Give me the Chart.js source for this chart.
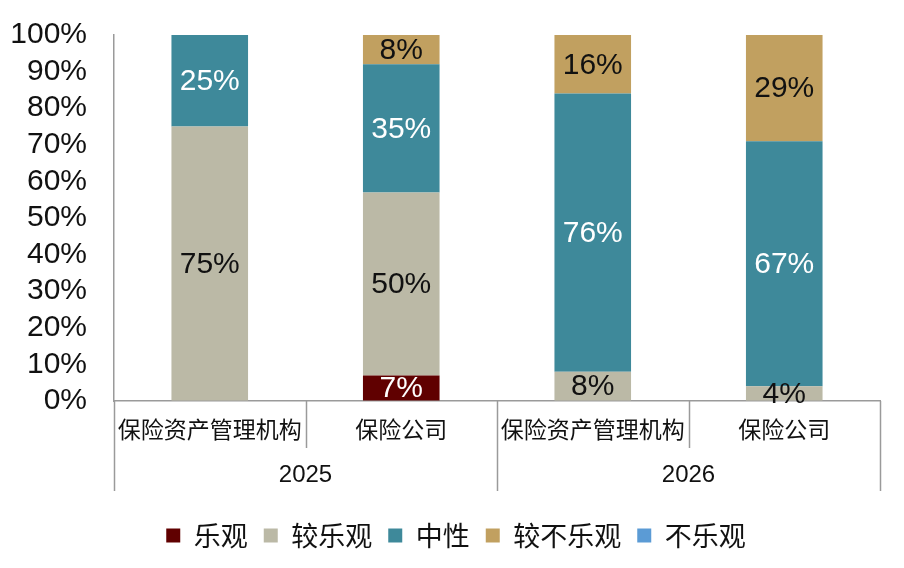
<!DOCTYPE html>
<html>
<head>
<meta charset="utf-8">
<script src="https://cdn.jsdelivr.net/npm/chart.js@4.4.1/dist/chart.umd.min.js"></script>
<style>
  html, body { margin: 0; padding: 0; background: #fff; }
  #wrap { width: 904px; height: 568px; }
</style>
</head>
<body>
<div id="wrap"><canvas id="chart" width="904" height="568"></canvas></div>
<script>
// chart data -------------------------------------------------------------
const categories = ['保险资产管理机构', '保险公司', '保险资产管理机构', '保险公司'];
const years = ['2025', '2026'];
const seriesNames = ['乐观', '较乐观', '中性', '较不乐观', '不乐观'];
const optimistic = [0, 7, 0, 0];
const fairlyOptimistic = [75, 50, 8, 4];
const neutral = [25, 35, 76, 67];
const fairlyPessimistic = [0, 8, 16, 29];
const pessimistic = [0, 0, 0, 0];
const yTicks = [0, 10, 20, 30, 40, 50, 60, 70, 80, 90, 100];

const colors = ['#600000', '#BBB9A6', '#3E899A', '#C1A060', '#5B9BD5'];
const labelColors = ['#fff', '#111', '#fff', '#111', '#fff'];
const AXIS = '#9a9a9a';
const NUM_FONT = '"Liberation Sans", Arial, "Noto Sans CJK SC", sans-serif';
const CJK_FONT = '"Noto Sans CJK SC", "Liberation Sans", sans-serif';

const values = [optimistic, fairlyOptimistic, neutral, fairlyPessimistic, pessimistic];

// value labels in the middle of each segment
const segmentLabels = {
  id: 'segmentLabels',
  afterDatasetsDraw(chart) {
    const ctx = chart.ctx;
    ctx.save();
    ctx.font = '30px ' + NUM_FONT;
    ctx.textAlign = 'center';
    ctx.textBaseline = 'middle';
    chart.data.datasets.forEach((ds, di) => {
      const meta = chart.getDatasetMeta(di);
      meta.data.forEach((bar, i) => {
        const v = ds.data[i];
        if (!v) return;
        ctx.fillStyle = labelColors[di];
        ctx.fillText(v + '%', bar.x, (bar.y + bar.base) / 2 + 1);
      });
    });
    ctx.restore();
  }
};

// two-level category axis: dividers and year labels
const groupAxis = {
  id: 'groupAxis',
  afterLayout(chart) {
    // legend sits a little right of the canvas centre in the original
    if (chart.legend) { chart.legend.left += 16; chart.legend.right += 16; }
  },
  afterDraw(chart) {
    const ctx = chart.ctx;
    const x = chart.scales.x;
    const bottom = chart.chartArea.bottom;
    ctx.save();
    ctx.strokeStyle = AXIS;
    ctx.lineWidth = 1.5;
    for (let i = 0; i <= categories.length; i++) {
      const px = Math.round(x.getPixelForValue(i - 0.5)) + 0.5;
      const end = i % 2 === 0 ? bottom + 90 : bottom + 47;
      ctx.beginPath();
      ctx.moveTo(px, bottom);
      ctx.lineTo(px, end);
      ctx.stroke();
    }
    ctx.fillStyle = '#111';
    ctx.font = '24px ' + NUM_FONT;
    ctx.textAlign = 'center';
    ctx.textBaseline = 'middle';
    years.forEach((y, g) => {
      const cx = (x.getPixelForValue(g * 2 - 0.5) + x.getPixelForValue(g * 2 + 1.5)) / 2;
      ctx.fillText(y, cx, bottom + 74);
    });
    ctx.restore();
  }
};

new Chart(document.getElementById('chart'), {
  type: 'bar',
  data: {
    labels: categories,
    datasets: seriesNames.map((name, i) => ({
      label: name,
      data: values[i],
      backgroundColor: colors[i],
      borderWidth: 0,
      barPercentage: 0.4,
      categoryPercentage: 1
    }))
  },
  options: {
    responsive: false,
    animation: false,
    devicePixelRatio: 1,
    layout: { padding: { top: 35, right: 24, bottom: 9, left: 0 } },
    plugins: {
      tooltip: { enabled: false },
      legend: {
        position: 'bottom',
        labels: {
          boxWidth: 14,
          boxHeight: 14,
          padding: 16,
          color: '#111',
          font: { size: 27, family: CJK_FONT }
        }
      }
    },
    scales: {
      x: {
        stacked: true,
        grid: { display: false, drawTicks: false },
        border: { color: AXIS, width: 1.5 },
        ticks: {
          padding: 14,
          maxRotation: 0,
          autoSkip: false,
          color: '#111',
          font: { size: 23, family: CJK_FONT }
        },
        afterFit(scale) { scale.height = 105; }
      },
      y: {
        stacked: true,
        min: 0,
        max: 100,
        afterBuildTicks(scale) { scale.ticks = yTicks.map(v => ({ value: v })); },
        // invisible tick marks push the labels away from the axis
        grid: { display: true, drawOnChartArea: false, drawTicks: true, tickLength: 24, tickColor: 'rgba(0,0,0,0)' },
        border: { color: AXIS, width: 1.5 },
        ticks: {
          padding: 3,
          autoSkip: false,
          color: '#111',
          font: { size: 30, family: NUM_FONT },
          callback: v => v + '%'
        },
        afterFit(scale) { scale.width = 114; }
      }
    }
  },
  plugins: [segmentLabels, groupAxis]
});
</script>
</body>
</html>
